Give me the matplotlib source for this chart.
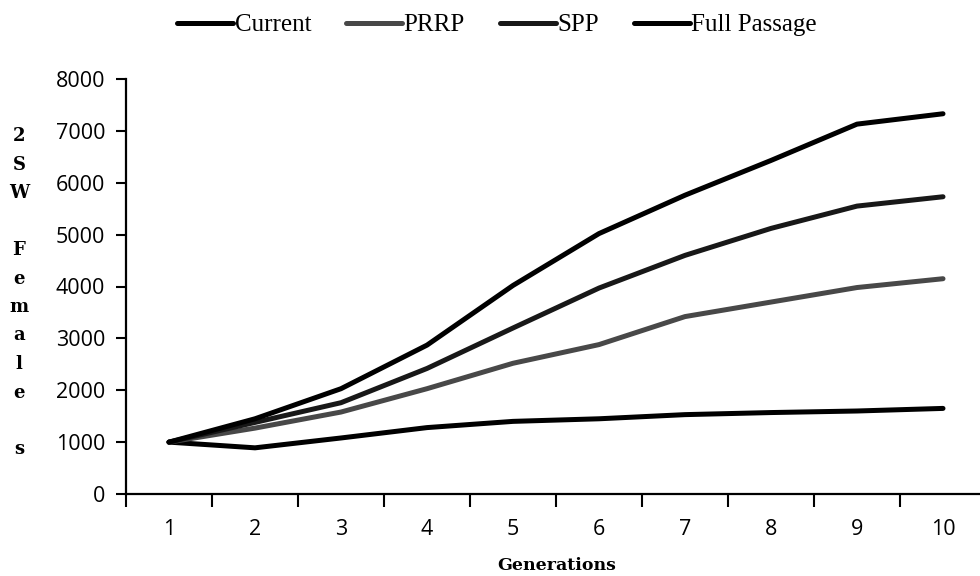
import matplotlib
matplotlib.use("Agg")
import matplotlib.pyplot as plt
from matplotlib.ticker import FixedLocator, NullFormatter

# ---- data ----
generations = [1, 2, 3, 4, 5, 6, 7, 8, 9, 10]
current = [1000, 890, 1080, 1280, 1400, 1450, 1530, 1570, 1600, 1650]
prrp = [1000, 1270, 1580, 2030, 2520, 2880, 3420, 3700, 3980, 4150]
spp = [1000, 1380, 1760, 2420, 3200, 3970, 4600, 5120, 5550, 5730]
full_passage = [1000, 1450, 2030, 2870, 4020, 5020, 5760, 6430, 7130, 7330]
series_names = ["Current", "PRRP", "SPP", "Full Passage"]
y_ticks = [0, 1000, 2000, 3000, 4000, 5000, 6000, 7000, 8000]
x_label = "Generations"
y_label = "2SW\n\nFemale\n\ns"

colors = ["#000000", "#484848", "#181818", "#000000"]

W, H = 980, 576
fig = plt.figure(figsize=(W / 100, H / 100), dpi=100)
fig.patch.set_facecolor("white")

left_px, right_px_10_5, bottom_px, top_px = 126, 986, 494, 79
ax = fig.add_axes([left_px / W, 1 - bottom_px / H,
                   (right_px_10_5 - left_px) / W, (bottom_px - top_px) / H])

for vals, name, col in zip([current, prrp, spp, full_passage], series_names, colors):
    ax.plot(generations, vals, color=col, lw=3.6, solid_capstyle="round",
            solid_joinstyle="round", label=name)

ax.set_xlim(0.5, 10.5)
ax.set_ylim(0, 8000)

for s in ["top", "right"]:
    ax.spines[s].set_visible(False)
for s in ["left", "bottom"]:
    ax.spines[s].set_linewidth(1.6)
    ax.spines[s].set_color("black")

tick_font = dict(family=["Open Sans", "DejaVu Sans"], size=15.5)

ax.set_yticks(y_ticks)
ax.set_yticklabels([str(v) for v in y_ticks], **tick_font)
ax.tick_params(axis="y", direction="out", length=7, width=1.5, pad=8, colors="black")

# x: tick marks between categories, labels at categories
ax.xaxis.set_major_locator(FixedLocator([g + 0.5 for g in generations] + [0.5]))
ax.xaxis.set_major_formatter(NullFormatter())
ax.xaxis.set_minor_locator(FixedLocator(generations))
ax.set_xticklabels([str(g) for g in generations], minor=True, **tick_font)
ax.tick_params(axis="x", which="major", direction="out", length=9, width=1.5)
ax.tick_params(axis="x", which="minor", length=0, pad=18)

# x label
fig.text(557 / W, 1 - 566 / H, x_label, ha="center", va="center",
         family="DejaVu Serif", fontweight="bold", fontsize=12.5)

# vertical stacked y label
pitch = 28.5
y0 = 134
lines = []
for part in y_label.split("\n"):
    if part == "":
        lines.append("")
    else:
        lines.extend(list(part))
for i, ch in enumerate(lines):
    if ch:
        fig.text(19 / W, 1 - (y0 + i * pitch) / H, ch, ha="center",
                 va="center_baseline", family="DejaVu Serif",
                 fontweight="bold", fontsize=13)

leg = fig.legend(*ax.get_legend_handles_labels(), loc="center",
                 bbox_to_anchor=(497 / W, 1 - 25 / H), ncol=4, frameon=False,
                 prop=dict(family=["Liberation Serif", "DejaVu Serif"], size=18),
                 handlelength=2.25, handletextpad=0.05, columnspacing=1.4,
                 borderaxespad=0, borderpad=0)
for line in leg.get_lines():
    line.set_linewidth(3.6)

fig.savefig("out.png", dpi=100, facecolor="white")
